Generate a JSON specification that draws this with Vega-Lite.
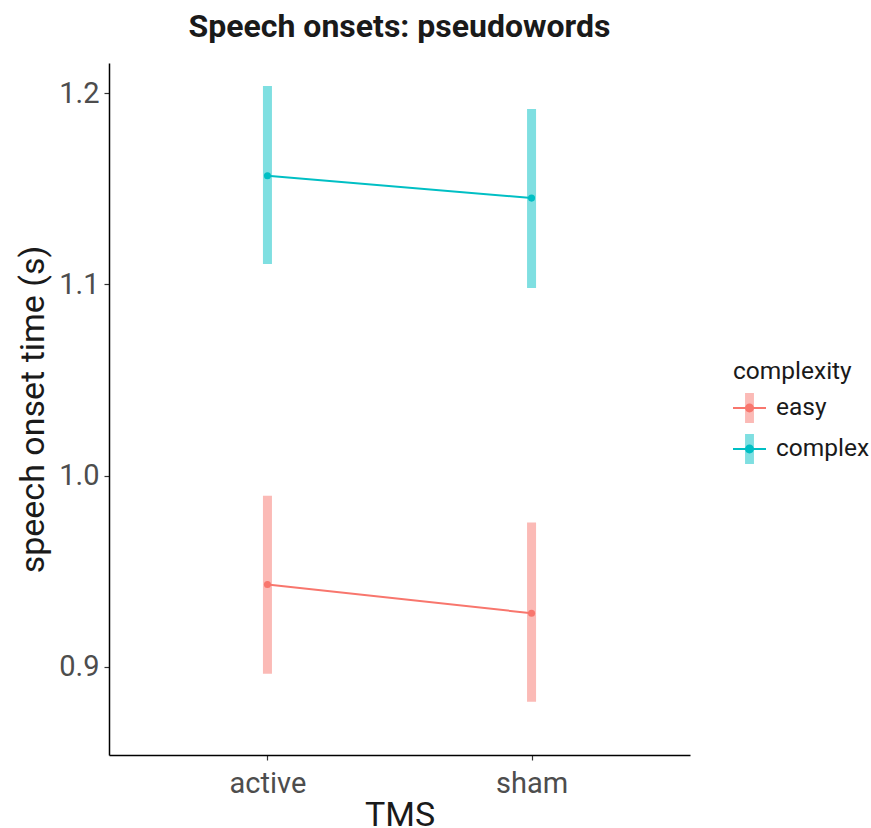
{
  "$schema": "https://vega.github.io/schema/vega-lite/v6.json",
  "width": 581,
  "height": 692,
  "autosize": {"type": "none"},
  "padding": {"left": 109, "top": 63, "right": 181, "bottom": 73},
  "background": "white",
  "title": {
    "text": "Speech onsets: pseudowords",
    "font": "Roboto",
    "fontSize": 32,
    "fontWeight": "bold",
    "color": "#1a1a1a",
    "anchor": "middle",
    "offset": 19
  },
  "config": {
    "view": {"stroke": null},
    "font": "Roboto",
    "axis": {
      "grid": false,
      "domainColor": "#000000",
      "domainWidth": 1.5,
      "tickColor": "#333333",
      "tickSize": 5,
      "tickWidth": 1.2,
      "labelFont": "Roboto",
      "labelFontSize": 29,
      "labelColor": "#4d4d4d",
      "titleFont": "Roboto",
      "titleFontSize": 34,
      "titleFontWeight": "normal",
      "titleColor": "#1a1a1a"
    }
  },
  "data": {
    "values": [
      {"TMS": "active", "complexity": "easy", "mean": 0.943, "lo": 0.8963, "hi": 0.9895},
      {"TMS": "sham", "complexity": "easy", "mean": 0.928, "lo": 0.8817, "hi": 0.9754},
      {"TMS": "active", "complexity": "complex", "mean": 1.1569, "lo": 1.1107, "hi": 1.2038},
      {"TMS": "sham", "complexity": "complex", "mean": 1.1452, "lo": 1.0981, "hi": 1.1918}
    ]
  },
  "layer": [
    {
      "mark": {"type": "bar", "width": 9, "opacity": 0.5},
      "encoding": {
        "x": {"field": "TMS", "type": "nominal", "scale": {"type": "point", "padding": 0.6}, "axis": {"labelAngle": 0, "title": "TMS", "labelPadding": 9, "titlePadding": 0}},
        "y": {"field": "lo", "type": "quantitative", "scale": {"domain": [0.8538, 1.2159], "nice": false, "zero": false}, "axis": {"values": [0.9, 1.0, 1.1, 1.2], "format": ".1f", "title": "speech onset time (s)", "labelPadding": 5, "titlePadding": 8}},
        "y2": {"field": "hi"},
        "color": {
          "field": "complexity", "type": "nominal",
          "scale": {"domain": ["easy", "complex"], "range": ["#F8766D", "#00BFC4"]},
          "legend": {
            "orient": "none", "legendX": 624, "legendY": 297,
            "title": "complexity", "titleFont": "Roboto", "titleFontSize": 24.5, "titleFontWeight": "normal", "titleColor": "#1a1a1a", "titlePadding": 7,
            "labelFont": "Roboto", "labelFontSize": 24.5, "labelColor": "#1a1a1a", "labelOffset": 10,
            "symbolType": "M-1,-0.91M1,0.91M-0.27,-0.91H0.27V0.91H-0.27Z", "symbolSize": 1089, "symbolStrokeWidth": 0, "symbolOpacity": 0.5, "rowPadding": 9
          }
        }
      }
    },
    {
      "mark": {"type": "line", "strokeWidth": 2},
      "encoding": {
        "x": {"field": "TMS", "type": "nominal"},
        "y": {"field": "mean", "type": "quantitative"},
        "stroke": {"field": "complexity", "type": "nominal", "scale": {"domain": ["easy", "complex"], "range": ["#F8766D", "#00BFC4"]}, "legend": null}
      }
    },
    {
      "mark": {"type": "point", "filled": true, "size": 50, "opacity": 1},
      "encoding": {
        "x": {"field": "TMS", "type": "nominal"},
        "y": {"field": "mean", "type": "quantitative"},
        "fill": {
          "field": "complexity", "type": "nominal", "sort": ["easy", "complex"],
          "scale": {"range": ["#F8766D", "#00BFC4"]},
          "legend": {
            "orient": "none", "legendX": 624, "legendY": 297,
            "title": "complexity", "titleFont": "Roboto", "titleFontSize": 24.5, "titleFontWeight": "normal", "titleOpacity": 0, "titlePadding": 7,
            "labelFont": "Roboto", "labelFontSize": 24.5, "labelOpacity": 0, "labelOffset": 10,
            "symbolType": "M-1,-0.91M1,0.91M-1,-0.06H1V0.06H-1Z M0.27,0A0.27,0.27 0 1,1 -0.27,0A0.27,0.27 0 1,1 0.27,0Z", "symbolSize": 1089, "symbolStrokeWidth": 0, "symbolOpacity": 1, "rowPadding": 9
          }
        }
      }
    }
  ]
}
